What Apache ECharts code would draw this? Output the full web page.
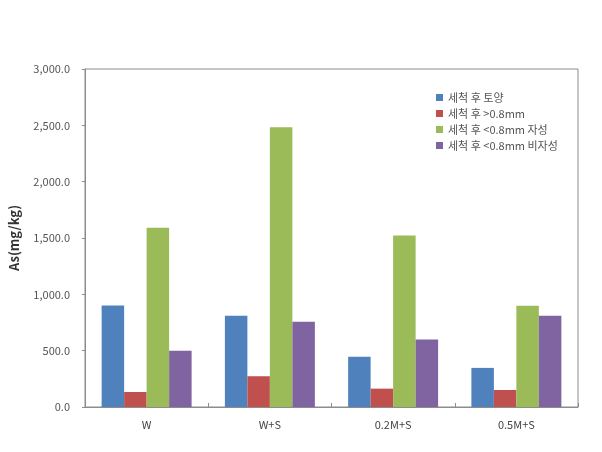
<!DOCTYPE html>
<html><head><meta charset="utf-8">
<script src="https://cdn.jsdelivr.net/npm/echarts@6/dist/echarts.min.js"></script>
<style>html,body{margin:0;padding:0;background:#fff}#c{width:602px;height:452px}</style>
</head><body><div id="c"></div>
<script>
const categories = ['W', 'W+S', '0.2M+S', '0.5M+S'];
const seriesNames = ['세척 후 토양', '세척 후 >0.8mm', '세척 후 <0.8mm 자성', '세척 후 <0.8mm 비자성'];
const soil = [900, 810, 445, 347];
const over08 = [133, 273, 163, 151];
const magnetic = [1592, 2482, 1522, 898];
const nonMagnetic = [500, 757, 600, 810];
const yTicks = [0, 500, 1000, 1500, 2000, 2500, 3000];
const colors = ['#4F81BD', '#C0504D', '#9BBB59', '#8064A2'];
const values = [soil, over08, magnetic, nonMagnetic];

const font = '"Noto Sans CJK KR", "DejaVu Sans", sans-serif';
const chart = echarts.init(document.getElementById('c'), null, {renderer: 'canvas'});
chart.setOption({
  animation: false,
  textStyle: {fontFamily: font},
  grid: {left: 85, top: 69, right: 24, bottom: 45, show: true, borderColor: '#8c8c8c', borderWidth: 1},
  legend: {
    orient: 'vertical', left: 431, top: 87, itemWidth: 7, itemHeight: 7, itemGap: 5,
    icon: 'rect',
    textStyle: {fontSize: 11, color: '#555', fontFamily: font},
    data: seriesNames
  },
  xAxis: {
    type: 'category', data: categories,
    axisLine: {lineStyle: {color: '#8c8c8c'}},
    axisTick: {show: true, inside: true, length: 4, lineStyle: {color: '#8c8c8c'}},
    axisLabel: {color: '#444', fontSize: 11, margin: 12, fontFamily: font}
  },
  yAxis: {
    type: 'value', min: yTicks[0], max: yTicks[yTicks.length - 1], interval: 500,
    name: 'As(mg/kg)', nameLocation: 'middle', nameGap: 64,
    nameTextStyle: {fontSize: 13, fontWeight: 'bold', color: '#333', fontFamily: font},
    axisLine: {show: true, lineStyle: {color: '#8c8c8c'}},
    axisTick: {show: true, length: 3, lineStyle: {color: '#8c8c8c'}},
    splitLine: {show: false},
    axisLabel: {
      color: '#555', fontSize: 11, margin: 15, fontFamily: font,
      formatter: v => v.toLocaleString('en-US', {minimumFractionDigits: 1, maximumFractionDigits: 1})
    }
  },
  series: seriesNames.map((n, i) => ({
    name: n, type: 'bar', data: values[i],
    barGap: '0%', barCategoryGap: '27%',
    itemStyle: {color: colors[i]}
  }))
});
</script></body></html>
